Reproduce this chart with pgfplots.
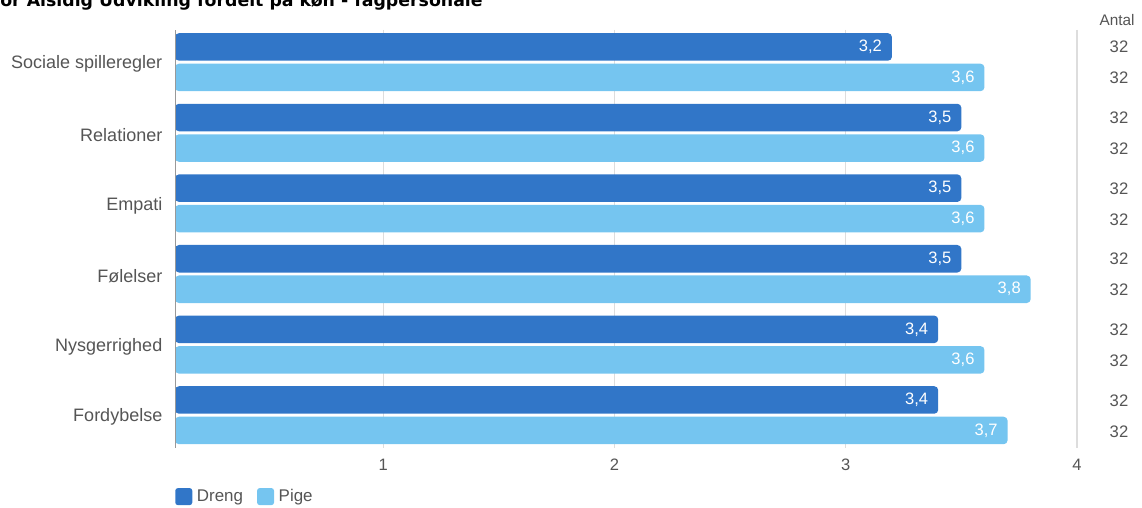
\documentclass[border=0pt]{standalone}
\usepackage{fontspec}
\setmainfont{Liberation Sans}
\newfontfamily\titlefont{DejaVu Sans}
\usepackage{pgfplots}
\pgfplotsset{compat=1.18}
\definecolor{dreng}{HTML}{3176C8}
\definecolor{pige}{HTML}{75C5F0}
\definecolor{lbl}{HTML}{555555}
\definecolor{gridc}{HTML}{DDDDDD}

\pgfplotstableread{
idx dreng pige
0 3.2 3.6
1 3.5 3.6
2 3.5 3.6
3 3.5 3.8
4 3.4 3.6
5 3.4 3.7
}\datatable

\begin{document}
\begin{tikzpicture}[x=0.75pt,y=0.75pt]
\useasboundingbox (0,0) rectangle (1142,507);
\node[anchor=base west, inner sep=0, font=\titlefont\bfseries\fontsize{13}{15}\selectfont] at (0,500.5) {or Alsidig Udvikling fordelt på køn - fagpersonale};
\begin{axis}[
  at={(131.25pt,44.475pt)}, anchor=south west, scale only axis,
  width=676.5pt, height=313.5pt,
  xmin=0.1, xmax=4, ymin=-0.46, ymax=5.46, y dir=reverse,
  xbar, bar width=0.39,
  axis line style={draw=none},
  xtick={1,2,3,4}, ytick={0,...,5},
  yticklabels={Sociale spilleregler, Relationer, Empati, Følelser, Nysgerrighed, Fordybelse},
  major tick length=0pt,
  xmajorgrids, grid style={draw=gridc, line width=0.9pt},
  /pgf/number format/assume math mode=true,
  xticklabel style={font=\fontsize{12.4}{14}\selectfont, text=lbl, yshift=-5pt},
  yticklabel style={font=\fontsize{13.5}{15}\selectfont, text=lbl, xshift=-6pt, yshift=-1.5pt},
  point meta=x,
  nodes near coords={\pgfmathprintnumber[use comma,fixed,fixed zerofill,precision=1]{\pgfplotspointmeta}},
  nodes near coords style={anchor=east, text=white, font=\fontsize{12.4}{14}\selectfont, xshift=-4pt},
  legend style={at={(0,-0.117)}, anchor=west, draw=none, fill=none, inner sep=0pt,
    font=\fontsize{12.7}{14}\selectfont, text=lbl, legend columns=2,
    /tikz/every odd column/.append style={column sep=1.5pt},
    /tikz/every even column/.append style={column sep=8.5pt}},
  legend image code/.code={\fill[#1, rounded corners=2pt] (0pt,-6.4pt) rectangle (12.75pt,6.4pt);},
]
\addplot[fill=dreng, draw=none, rounded corners=3pt, bar shift=-0.216] table[x=dreng, y=idx] {\datatable};
\addplot[fill=pige, draw=none, rounded corners=3pt, bar shift=0.216] table[x=pige, y=idx] {\datatable};
\legend{Dreng, Pige}
\draw[black!40, line width=1.3pt] (rel axis cs:0,0) -- (rel axis cs:0,1);
\end{axis}
\node[font=\fontsize{11.5}{13}\selectfont, text=lbl] at (1117,487) {Antal};
\foreach \i in {0,...,5} {
  \node[font=\fontsize{12.5}{14}\selectfont, text=lbl] at (1119, {507-47-70.66*\i}) {32};
  \node[font=\fontsize{12.5}{14}\selectfont, text=lbl] at (1119, {507-78-70.66*\i}) {32};
}
\end{tikzpicture}
\end{document}
